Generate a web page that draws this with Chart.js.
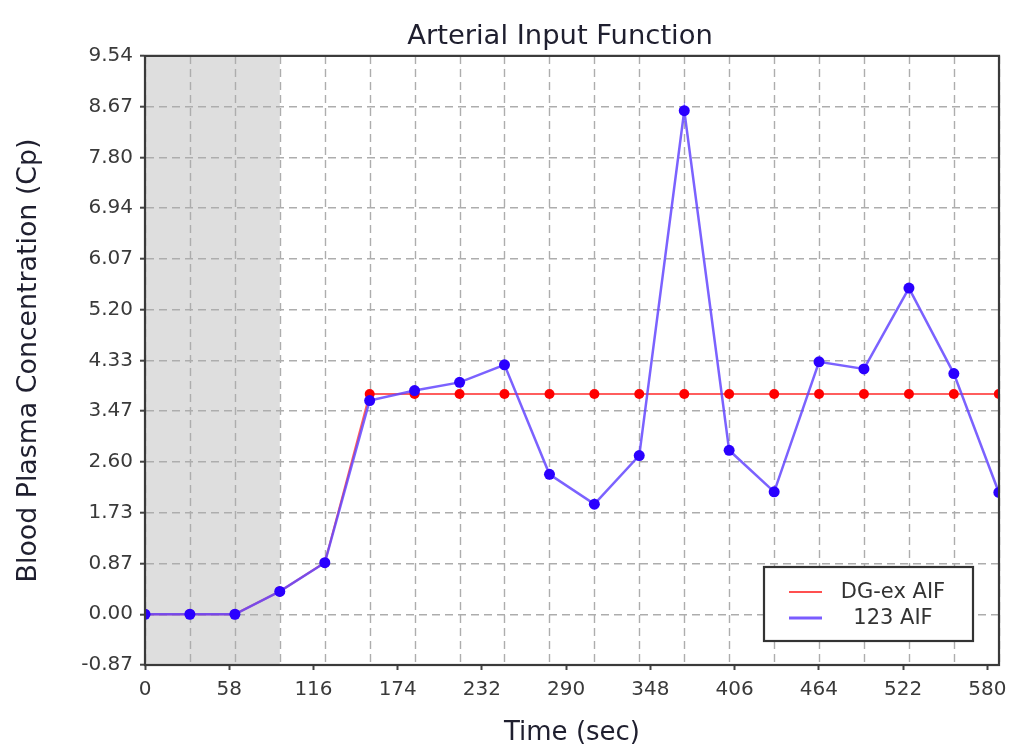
<!DOCTYPE html>
<html>
<head>
<meta charset="utf-8">
<script src="https://cdn.jsdelivr.net/npm/chart.js@4/dist/chart.umd.min.js"></script>
<style>
html,body{margin:0;padding:0;background:#fff;}
#wrap{width:1019px;height:754px;}
</style>
</head>
<body>
<div id="wrap"><canvas id="c" width="1019" height="754"></canvas></div>
<script>
// ---- data ----
const times = [0, 30.9, 61.9, 92.8, 123.8, 154.7, 185.6, 216.6, 247.5, 278.5, 309.4, 340.3, 371.3, 402.2, 433.2, 464.1, 495.0, 526.0, 556.9, 587.9];
const dgexAIF = [0, 0, 0, 0.39, 0.88, 3.76, 3.76, 3.76, 3.76, 3.76, 3.76, 3.76, 3.76, 3.76, 3.76, 3.76, 3.76, 3.76, 3.76, 3.76];
const aif123 = [0, 0, 0, 0.39, 0.88, 3.65, 3.82, 3.96, 4.26, 2.39, 1.88, 2.71, 8.60, 2.80, 2.09, 4.31, 4.19, 5.57, 4.11, 2.08];
const seriesNames = ["DG-ex AIF", "123 AIF"];
const xTickValues = [0, 58, 116, 174, 232, 290, 348, 406, 464, 522, 580];
const yTickValues = [-0.8669, 0, 0.8669, 1.7338, 2.6007, 3.4676, 4.3345, 5.2014, 6.0683, 6.9352, 7.8021, 8.669, 9.5359];
const yTickLabels = ["-0.87", "0.00", "0.87", "1.73", "2.60", "3.47", "4.33", "5.20", "6.07", "6.94", "7.80", "8.67", "9.54"];
const shadedRange = [0, 92.8];

const FONT = "'DejaVu Sans', sans-serif";

const bgPlugin = {
  id: 'bg',
  afterLayout(chart) {
    // centre the title over the plotting area, as in the original
    const a = chart.chartArea, tb = chart.titleBlock;
    if (tb) { tb.left = a.left; tb.right = a.right - 24; tb.width = tb.right - tb.left; }
  },
  beforeDraw(chart) {
    const {ctx, chartArea: a, scales} = chart;
    ctx.save();
    ctx.fillStyle = '#ffffff';
    ctx.fillRect(0, 0, chart.width, chart.height);
    const x0 = scales.x.getPixelForValue(shadedRange[0]);
    const x1 = scales.x.getPixelForValue(shadedRange[1]);
    ctx.fillStyle = '#dedede';
    ctx.fillRect(x0, a.top, x1 - x0, a.bottom - a.top);
    ctx.restore();
  },
  beforeDatasetsDraw(chart) {
    const {ctx, chartArea: a, scales} = chart;
    ctx.save();
    ctx.strokeStyle = '#adadad';
    ctx.lineWidth = 1.4;
    ctx.setLineDash([8, 5]);
    times.forEach(t => {
      const x = Math.round(scales.x.getPixelForValue(t)) + 0.5;
      ctx.beginPath();
      ctx.moveTo(x, a.top);
      ctx.lineTo(x, a.bottom);
      ctx.stroke();
    });
    ctx.restore();
  },
  afterDraw(chart) {
    const {ctx, chartArea: a} = chart;
    ctx.save();
    ctx.strokeStyle = '#3a3a3a';
    ctx.lineWidth = 2.2;
    ctx.setLineDash([]);
    ctx.strokeRect(a.left, a.top, a.right - a.left, a.bottom - a.top);
    // legend
    const w = 209, h = 74;
    const lx = a.right - 26 - w, ly = a.bottom - 24 - h;
    ctx.fillStyle = '#ffffff';
    ctx.fillRect(lx, ly, w, h);
    ctx.lineWidth = 2.2;
    ctx.strokeStyle = '#333';
    ctx.strokeRect(lx, ly, w, h);
    ctx.font = '21px ' + FONT;
    ctx.textAlign = 'center';
    ctx.textBaseline = 'middle';
    chart.data.datasets.forEach((ds, i) => {
      const y = ly + 25 + i * 26;
      ctx.strokeStyle = ds.legendColor;
      ctx.lineWidth = i === 0 ? 2.2 : 3;
      ctx.beginPath();
      ctx.moveTo(lx + 25, y);
      ctx.lineTo(lx + 58, y);
      ctx.stroke();
      ctx.fillStyle = '#333';
      ctx.fillText(ds.label, lx + 129, y + 1);
    });
    ctx.restore();
  }
};

new Chart(document.getElementById('c'), {
  type: 'line',
  data: {
    datasets: [
      {
        label: seriesNames[0],
        data: times.map((t, i) => ({x: t, y: dgexAIF[i]})),
        borderColor: 'rgba(255,40,40,0.75)',
        legendColor: '#ff5050',
        borderWidth: 2,
        pointBackgroundColor: '#ff0000',
        pointBorderColor: '#ff0000',
        pointRadius: 5,
        pointBorderWidth: 0,
        tension: 0,
        order: 1
      },
      {
        label: seriesNames[1],
        data: times.map((t, i) => ({x: t, y: aif123[i]})),
        borderColor: 'rgba(100,70,255,0.85)',
        legendColor: '#7a5cff',
        borderWidth: 2.5,
        pointBackgroundColor: '#2a00ff',
        pointBorderColor: '#2a00ff',
        pointRadius: 5.5,
        pointBorderWidth: 0,
        tension: 0,
        order: 0
      }
    ]
  },
  options: {
    responsive: false,
    devicePixelRatio: 1,
    animation: false,
    layout: {padding: {left: 0, right: 20, top: 0, bottom: 0}},
    plugins: {
      legend: {display: false},
      tooltip: {enabled: false},
      title: {
        display: true,
        text: 'Arterial Input Function',
        color: '#1f1f2f',
        font: {family: FONT, size: 27.4, weight: 'normal', lineHeight: 1.2},
        padding: {top: 20, bottom: 3}
      }
    },
    scales: {
      x: {
        type: 'linear',
        min: 0,
        max: 588,
        afterBuildTicks: s => { s.ticks = xTickValues.map(v => ({value: v})); },
        afterFit: s => { s.height = 89; },
        ticks: {
          color: '#3a3a3a',
          font: {family: FONT, size: 20},
          padding: 8,
          maxRotation: 0,
          autoSkip: false,
          callback: v => String(v)
        },
        grid: {drawOnChartArea: false, drawTicks: true, tickLength: 5, tickColor: '#444', tickWidth: 2},
        border: {display: true, color: '#3a3a3a', width: 2},
        title: {
          display: true,
          text: 'Time (sec)',
          color: '#1f1f2f',
          font: {family: FONT, size: 26, lineHeight: 1.2},
          padding: {top: 0, bottom: 5}
        }
      },
      y: {
        type: 'linear',
        min: yTickValues[0],
        max: yTickValues[yTickValues.length - 1],
        afterBuildTicks: s => { s.ticks = yTickValues.map(v => ({value: v})); },
        afterFit: s => { s.width = 145; },
        ticks: {
          color: '#3a3a3a',
          font: {family: FONT, size: 20},
          padding: 7,
          autoSkip: false,
          callback: (v, i) => yTickLabels[i]
        },
        grid: {
          color: '#adadad',
          lineWidth: 1.4,
          drawTicks: true,
          tickLength: 5,
          tickColor: '#444',
          tickWidth: 2,
          tickBorderDash: []
        },
        border: {display: true, color: '#3a3a3a', width: 2, dash: [8, 5]},
        title: {
          display: true,
          text: 'Blood Plasma Concentration (Cp)',
          color: '#1f1f2f',
          font: {family: FONT, size: 26.8, lineHeight: 1.2},
          padding: {top: 13, bottom: 0}
        }
      }
    }
  },
  plugins: [bgPlugin]
});
</script>
</body>
</html>
